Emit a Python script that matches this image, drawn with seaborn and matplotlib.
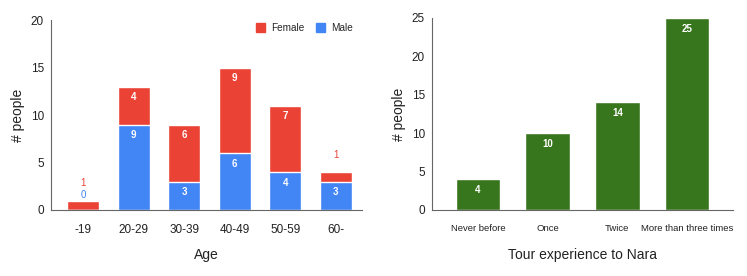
import matplotlib
matplotlib.use("Agg")
import matplotlib.pyplot as plt
from matplotlib.patches import Patch
import pandas as pd
import seaborn as sns

# data
ages = ["-19", "20-29", "30-39", "40-49", "50-59", "60-"]
female = [1, 4, 6, 9, 7, 1]
male = [0, 9, 3, 6, 4, 3]

tours = ["Never before", "Once", "Twice", "More than three times"]
tour_counts = [4, 10, 14, 25]

RED = "#EA4335"
BLUE = "#4285F4"
GREEN = "#38761D"

sns.set_style("white")
plt.rcParams["font.family"] = ["Liberation Sans", "DejaVu Sans"]

df_age = pd.DataFrame({"age": ages, "female": female, "male": male})
df_age["total"] = df_age["female"] + df_age["male"]
df_tour = pd.DataFrame({"tour": tours, "count": tour_counts})

fig = plt.figure(figsize=(7.47, 2.76), dpi=100)
ax1 = fig.add_axes([51 / 747, 66 / 276, 311 / 747, 190 / 276])
ax2 = fig.add_axes([432 / 747, 66 / 276, 301 / 747, 192 / 276])

# left: stacked bars (female on top of male)
sns.barplot(data=df_age, x="age", y="total", color=RED, saturation=1, width=0.63, ax=ax1)
sns.barplot(data=df_age, x="age", y="male", color=BLUE, saturation=1, width=0.63, ax=ax1)

for i, (f, m) in enumerate(zip(female, male)):
    t = f + m
    if f >= 2:
        ax1.text(i, t - 0.6, str(f), ha="center", va="top", color="white", fontsize=7, fontweight="bold")
    else:
        ax1.text(i, t + 1.8, str(f), ha="center", va="center", color=RED, fontsize=7)
    if m >= 2:
        ax1.text(i, m - 0.6, str(m), ha="center", va="top", color="white", fontsize=7, fontweight="bold")
    elif m == 0:
        ax1.text(i, t + 0.6, str(m), ha="center", va="center", color=BLUE, fontsize=7)

ax1.set_ylim(0, 20)
ax1.set_yticks([0, 5, 10, 15, 20])
ax1.set_xlim(-0.64, 5.52)
ax1.set_xlabel("Age", fontsize=10, labelpad=9, color="#222222")
ax1.set_ylabel("# people", fontsize=10, labelpad=4, color="#222222")
ax1.legend(handles=[Patch(color=RED, label="Female"), Patch(color=BLUE, label="Male")],
           loc="upper right", ncol=2, frameon=False, fontsize=7.2,
           handlelength=0.9, handleheight=1.0, columnspacing=1.2, handletextpad=0.6,
           bbox_to_anchor=(1.0, 1.03))

# right: tour experience
sns.barplot(data=df_tour, x="tour", y="count", color=GREEN, saturation=1, width=0.64, ax=ax2)
for i, c in enumerate(tour_counts):
    ax2.text(i, c - 0.75, str(c), ha="center", va="top", color="white", fontsize=7, fontweight="bold")
ax2.set_ylim(0, 25)
ax2.set_yticks([0, 5, 10, 15, 20, 25])
ax2.set_xlim(-0.66, 3.66)
ax2.set_xlabel("Tour experience to Nara", fontsize=10, labelpad=11, color="#222222")
ax2.set_ylabel("# people", fontsize=10, labelpad=4, color="#222222")

for ax in (ax1, ax2):
    sns.despine(ax=ax)
    for s in ("left", "bottom"):
        ax.spines[s].set_color("#666666")
        ax.spines[s].set_linewidth(0.8)
    ax.tick_params(axis="x", length=3, width=0.6, color="#666666", direction="out",
                   labelcolor="#222222")
    ax.tick_params(axis="y", length=3, width=0.6, color="#666666", direction="in",
                   labelsize=8.5, pad=5, labelcolor="#222222")
ax1.tick_params(axis="x", labelsize=8.5, pad=7)
ax2.tick_params(axis="x", labelsize=6.8, pad=7)

fig.savefig("out.png", dpi=100)
